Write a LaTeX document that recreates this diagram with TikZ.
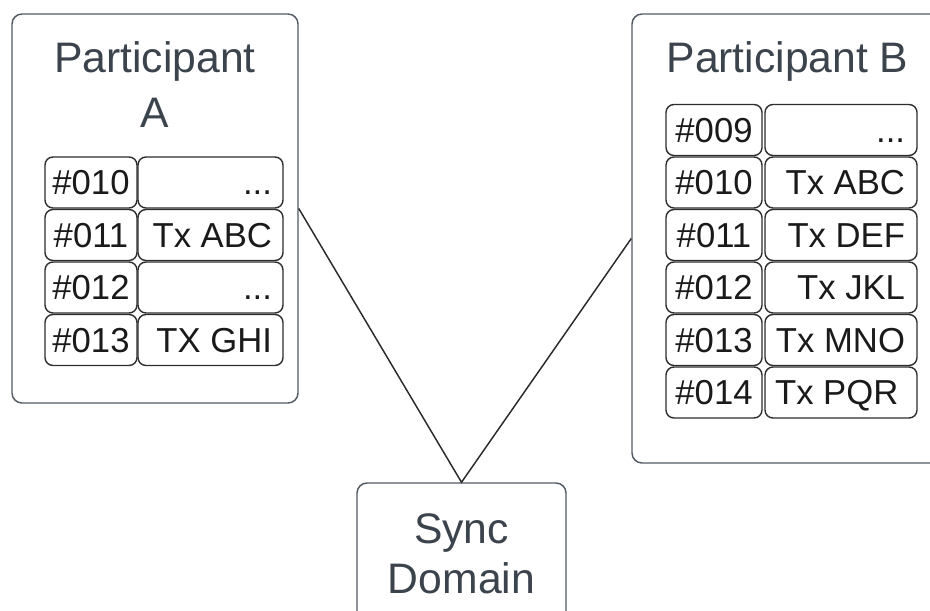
\documentclass[tikz,border=0pt]{standalone}
\usepackage{fontspec}
\setmainfont{Liberation Sans}
\definecolor{boxline}{HTML}{545B64}
\definecolor{titletext}{HTML}{3B434D}
\definecolor{cellline}{HTML}{2E2E2E}
\definecolor{celltext}{HTML}{1A1A1A}
\definecolor{connline}{HTML}{2A2A2A}
\begin{document}
\begin{tikzpicture}[x=0.75pt,y=-0.75pt,
  outerbox/.style={draw=boxline,line width=1.1pt,rounded corners=7.5pt,fill=white,inner sep=0pt},
  titlefont/.style={text=titletext,font=\fontsize{32}{40.5}\selectfont,inner sep=0pt,anchor=base},
  cellbase/.style={draw=cellline,line width=1.05pt,rounded corners=6pt,text=celltext,
     font=\fontsize{26}{30}\selectfont,minimum height=38.25pt,text height=18.6pt,text depth=0pt,inner ysep=0pt},
  numcell/.style={cellbase,minimum width=69pt,inner xsep=0pt},
  numcellb/.style={cellbase,minimum width=72pt,inner xsep=0pt},
  txcell/.style={cellbase,minimum width=108.75pt,inner xsep=8.25pt},
  txcellb/.style={cellbase,minimum width=114pt,inner xsep=9pt},
  conn/.style={draw=connline,line width=1.1pt}]
\useasboundingbox (0,0) rectangle (930,610);
\clip (0,0) rectangle (930,610);
% outer boxes
\node[outerbox,minimum width=214.5pt,minimum height=291.75pt] (A) at (155,208.5) {};
\node[outerbox,minimum width=238.5pt,minimum height=336.75pt] (B) at (791,238.5) {};
\node[outerbox,minimum width=156.75pt,minimum height=117.75pt] (S) at (461.5,561.5) {};
% connectors
\draw[conn] (A.east) -- (S.north) -- (B.west);
% titles
\node[titlefont] (tA) at (155,73) {\begin{tabular}[t]{@{}c@{}}Participant\\A\end{tabular}};
\node[titlefont] (tB) at (787.5,73) {Participant B};
\node[titlefont,font=\fontsize{32}{37.5}\selectfont] (tS) at (461.5,543) {\begin{tabular}[t]{@{}c@{}}Sync\\Domain\end{tabular}};
% participant A cells
\foreach \i/\n/\t in {0/010/{...},1/011/{Tx ABC},2/012/{...},3/013/{TX GHI}}{
  \node[numcell] (an\i) at (91,182.5+52.5*\i) {\#\n};
  \node[txcell] (at\i) at (210.5,182.5+52.5*\i) {\makebox[92.25pt][r]{\t}};
}
% participant B cells
\foreach \i/\n/\t in {0/009/{...},1/010/{Tx ABC},2/011/{Tx DEF},3/012/{Tx JKL},4/013/{Tx MNO},5/014/{Tx PQR\hspace{5pt}}}{
  \node[numcellb] (bn\i) at (714,130+52.5*\i) {\#\n};
  \node[txcellb] (bt\i) at (841,130+52.5*\i) {\makebox[96pt][r]{\t}};
}
\end{tikzpicture}
\end{document}
